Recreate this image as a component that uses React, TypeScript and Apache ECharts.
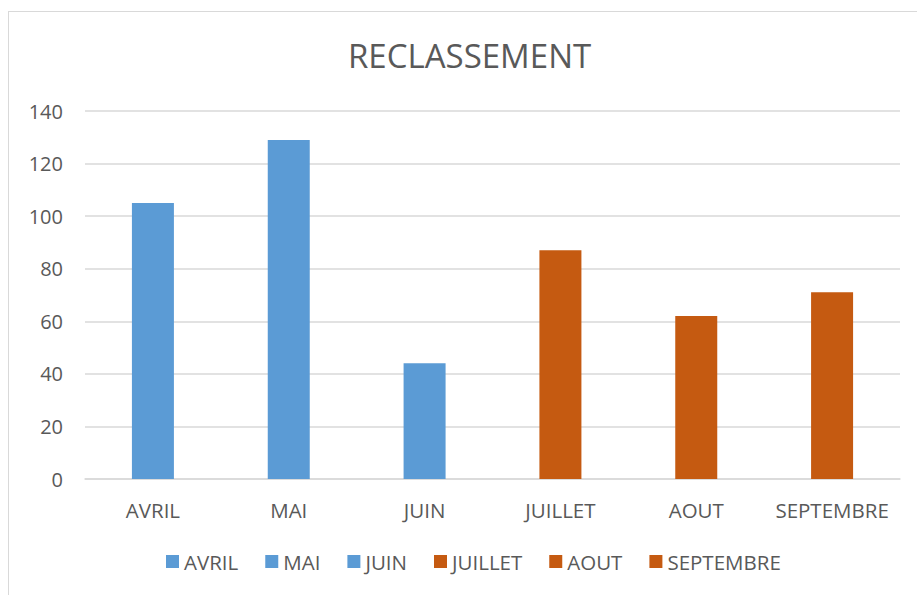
import React, { useEffect, useRef } from "react";
import * as echarts from "echarts";

const title = "RECLASSEMENT";
const categories = ["AVRIL", "MAI", "JUIN", "JUILLET", "AOUT", "SEPTEMBRE"];
const values = [105, 129, 44, 87, 62, 71];
const colors = ["#5B9BD5", "#5B9BD5", "#5B9BD5", "#C55A11", "#C55A11", "#C55A11"];
const yTicks = { min: 0, max: 140, interval: 20 };

export default function App() {
  const ref = useRef<HTMLDivElement>(null);
  useEffect(() => {
    if (!ref.current) return;
    const chart = echarts.init(ref.current, null, { renderer: "svg" });
    const font = "'Open Sans', sans-serif";
    const series = categories.map((name, i) => ({
      name,
      type: "bar",
      stack: "all",
      barWidth: 42,
      itemStyle: { color: colors[i] },
      data: categories.map((_, j) => (j === i ? values[i] : null)),
    }));
    chart.setOption({
      animation: false,
      backgroundColor: "#ffffff",
      title: {
        text: title,
        left: 343,
        top: 34,
        textStyle: { fontFamily: font, fontSize: 33, fontWeight: "normal", color: "#595959" },
      },
      legend: {
        data: categories,
        bottom: 18,
        left: 161,
        icon: "rect",
        itemWidth: 13,
        itemHeight: 13,
        itemGap: 27,
        textStyle: { fontFamily: font, fontSize: 20.5, color: "#595959" },
      },
      grid: { left: 85, right: 17, top: 111, bottom: 116 },
      xAxis: {
        type: "category",
        data: categories,
        axisLine: { lineStyle: { color: "#d9d9d9", width: 1.5 } },
        axisTick: { show: false },
        axisLabel: { fontFamily: font, fontSize: 20.5, color: "#595959", margin: 20, interval: 0 },
      },
      yAxis: {
        type: "value",
        min: yTicks.min,
        max: yTicks.max,
        interval: yTicks.interval,
        axisLine: { show: false },
        axisTick: { show: false },
        splitLine: { lineStyle: { color: "#d9d9d9", width: 1.5 } },
        axisLabel: { fontFamily: font, fontSize: 20, color: "#595959", margin: 22 },
      },
      graphic: [
        { type: "line", shape: { x1: 8, y1: 11.5, x2: 917, y2: 11.5 }, style: { stroke: "#d9d9d9", lineWidth: 1 } },
        { type: "line", shape: { x1: 8.5, y1: 11, x2: 8.5, y2: 595 }, style: { stroke: "#d9d9d9", lineWidth: 1 } },
      ],
      series,
    });
    return () => chart.dispose();
  }, []);
  return (
    <div
      ref={ref}
      style={{ position: "absolute", left: 0, top: 0, width: 917, height: 595 }}
    />
  );
}
